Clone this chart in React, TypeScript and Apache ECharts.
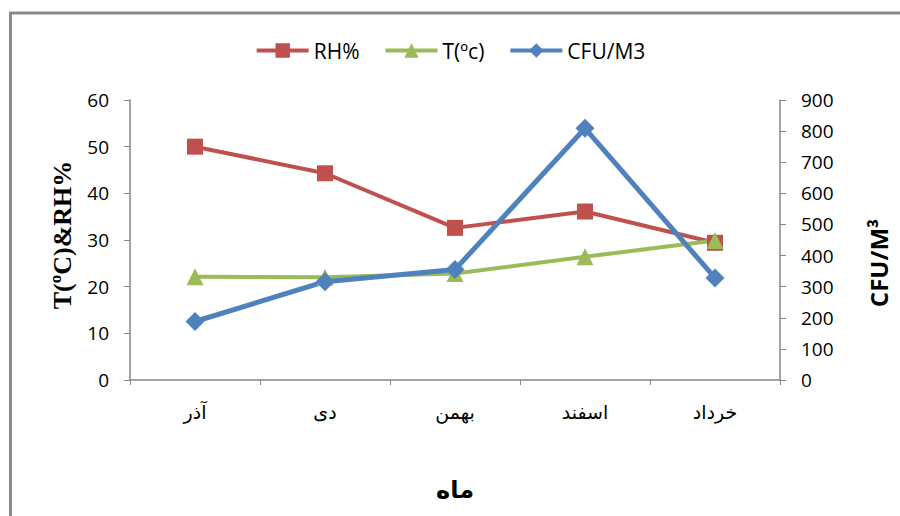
import React, { useEffect, useRef } from "react";
import * as echarts from "echarts";

const months = ["آذر", "دی", "بهمن", "اسفند", "خرداد"];
const rhValues = [50.0, 44.3, 32.6, 36.1, 29.4];
const tempValues = [22.1, 22.0, 22.8, 26.4, 29.9];
const cfuValues = [188, 316, 355, 809, 328];

const leftTicksMax = 60;
const rightTicksMax = 900;

export default function App() {
  const ref = useRef<HTMLDivElement>(null);
  useEffect(() => {
    document.body.style.margin = "0";
    const chart = echarts.init(ref.current!, null, { renderer: "svg" });
    const axisGray = "#868686";
    const tickFont = { color: "#000", fontSize: 19, fontFamily: "Open Sans" };
    chart.setOption({
      animation: false,
      backgroundColor: "#fff",
      legend: {
        top: 35,
        left: "center",
        itemWidth: 52,
        itemHeight: 18,
        itemGap: 24,
        lineStyle: { width: 4 },
        textStyle: { fontSize: 21, fontFamily: "Open Sans", color: "#000" },
        data: ["RH%", "T(ºc)", "CFU/M3"],
      },
      grid: { left: 130, right: 120, top: 100, bottom: 136 },
      xAxis: {
        type: "category",
        data: months,
        boundaryGap: true,
        axisLine: { lineStyle: { color: axisGray, width: 1.5 } },
        axisTick: { show: true, length: 5, lineStyle: { color: axisGray } },
        axisLabel: { margin: 22, color: "#000", fontSize: 19, fontFamily: "DejaVu Sans" },
        splitLine: { show: false },
      },
      yAxis: [
        {
          type: "value",
          min: 0,
          max: leftTicksMax,
          interval: 10,
          position: "left",
          axisLine: { show: true, lineStyle: { color: axisGray, width: 1.5 } },
          axisTick: { show: true, length: 6, lineStyle: { color: axisGray } },
          axisLabel: { ...tickFont, margin: 21 },
          splitLine: { show: false },
        },
        {
          type: "value",
          min: 0,
          max: rightTicksMax,
          interval: 100,
          position: "right",
          axisLine: { show: true, lineStyle: { color: axisGray, width: 1.5 } },
          axisTick: { show: true, length: 6, lineStyle: { color: axisGray } },
          axisLabel: { ...tickFont, margin: 21 },
          splitLine: { show: false },
        },
      ],
      series: [
        {
          name: "RH%",
          type: "line",
          data: rhValues,
          yAxisIndex: 0,
          symbol: "rect",
          symbolSize: 16,
          color: "#C0504D",
          lineStyle: { width: 4, color: "#C0504D" },
          itemStyle: { color: "#C0504D" },
        },
        {
          name: "T(ºc)",
          type: "line",
          data: tempValues,
          yAxisIndex: 0,
          symbol: "triangle",
          symbolSize: 17,
          color: "#9BBB59",
          lineStyle: { width: 4, color: "#9BBB59" },
          itemStyle: { color: "#9BBB59" },
        },
        {
          name: "CFU/M3",
          type: "line",
          data: cfuValues,
          yAxisIndex: 1,
          symbol: "diamond",
          symbolSize: 19,
          color: "#4F81BD",
          lineStyle: { width: 5, color: "#4F81BD" },
          itemStyle: { color: "#4F81BD" },
        },
      ],
      graphic: [
        {
          type: "rect",
          shape: { x: 10.5, y: 13, width: 1000, height: 600 },
          style: { fill: "none", stroke: "#8a8a8a", lineWidth: 3 },
          silent: true,
        },
        {
          type: "text",
          x: 62,
          y: 235,
          rotation: Math.PI / 2,
          style: {
            text: "T(ºC)&RH%",
            fontFamily: "Liberation Serif",
            fontWeight: "bold",
            fontSize: 26,
            fill: "#000",
            align: "center",
            verticalAlign: "middle",
          },
        },
        {
          type: "text",
          x: 878,
          y: 263,
          rotation: Math.PI / 2,
          style: {
            text: "CFU/M³",
            fontFamily: "Open Sans",
            fontWeight: "bold",
            fontSize: 24,
            fill: "#000",
            align: "center",
            verticalAlign: "middle",
          },
        },
        {
          type: "text",
          x: 455,
          y: 490,
          style: {
            text: "ماه",
            fontFamily: "DejaVu Sans",
            fontWeight: "bold",
            fontSize: 24,
            fill: "#000",
            align: "center",
            verticalAlign: "middle",
          },
        },
      ],
    });
    return () => chart.dispose();
  }, []);
  return <div ref={ref} style={{ width: 900, height: 516 }} />;
}
